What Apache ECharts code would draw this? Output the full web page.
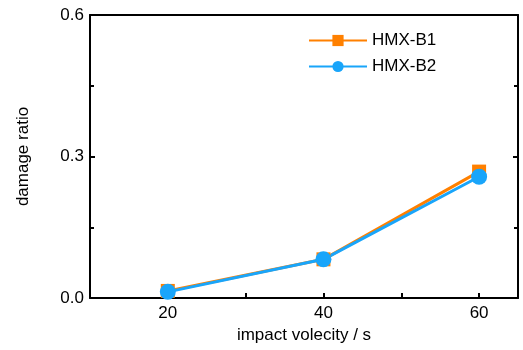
<!DOCTYPE html>
<html><head><meta charset="utf-8">
<script src="https://cdn.jsdelivr.net/npm/echarts@6/dist/echarts.min.js"></script>
<style>html,body{margin:0;padding:0;background:#fff}#c{width:523px;height:350px}</style>
</head><body><div id="c"></div>
<script>
const velocities = [20, 40, 60];
const hmxB1 = [0.015, 0.082, 0.268];
const hmxB2 = [0.013, 0.082, 0.257];
const xTicks = [20, 30, 40, 50, 60];
const seriesNames = ['HMX-B1', 'HMX-B2'];
const font = '"Liberation Sans Narrow", "Liberation Sans", Arial, sans-serif';
const chart = echarts.init(document.getElementById('c'));
const axisBase = {
  axisLine: {show: true, onZero: false, lineStyle: {color: '#000', width: 2}},
  axisTick: {show: true, inside: true, length: 5, lineStyle: {color: '#000', width: 2}},
  minorTick: {show: true, splitNumber: 2, length: 4, lineStyle: {color: '#000', width: 2}},
  splitLine: {show: false}
};
chart.setOption({
  animation: false,
  grid: {left: 90, right: 5, top: 15, bottom: 52},
  legend: {
    data: seriesNames, orient: 'vertical', left: 303, top: 27, itemWidth: 58, itemHeight: 14, itemGap: 9,
    textStyle: {fontFamily: font, fontSize: 17, color: '#000'}
  },
  xAxis: [
    Object.assign({}, axisBase, {type: 'value', min: 10, max: 65, interval: 10,
      name: 'impact volecity / s', nameLocation: 'middle', nameGap: 25,
      nameTextStyle: {fontFamily: font, fontSize: 17, color: '#000'},
      axisTick: {show: true, inside: true, length: 5, lineStyle: {color: '#000', width: 2},
        customValues: xTicks},
      minorTick: {show: false},
      axisLabel: {fontFamily: font, fontSize: 17, color: '#000', margin: 7, customValues: velocities}
    }),
    Object.assign({}, axisBase, {type: 'value', min: 10, max: 65, position: 'top', axisLabel: {show: false}, axisTick: {show: false}, minorTick: {show: false}})
  ],
  yAxis: [
    Object.assign({}, axisBase, {type: 'value', min: 0, max: 0.6, interval: 0.3,
      name: 'damage ratio', nameLocation: 'middle', nameGap: 58,
      nameTextStyle: {fontFamily: font, fontSize: 17, color: '#000'},
      axisLabel: {fontFamily: font, fontSize: 17, color: '#000', margin: 6, formatter: v => v.toFixed(1)}
    }),
    Object.assign({}, axisBase, {type: 'value', min: 0, max: 0.6, interval: 0.3, position: 'right', axisLabel: {show: false}})
  ],
  series: [
    {name: seriesNames[0], type: 'line', data: velocities.map((v, i) => [v, hmxB1[i]]),
      symbol: 'rect', symbolSize: 14, itemStyle: {color: '#FF8000'}, lineStyle: {color: '#FF8000', width: 3}},
    {name: seriesNames[1], type: 'line', data: velocities.map((v, i) => [v, hmxB2[i]]),
      symbol: 'circle', symbolSize: 16, itemStyle: {color: '#19A5FA'}, lineStyle: {color: '#19A5FA', width: 3}}
  ]
});
</script></body></html>
